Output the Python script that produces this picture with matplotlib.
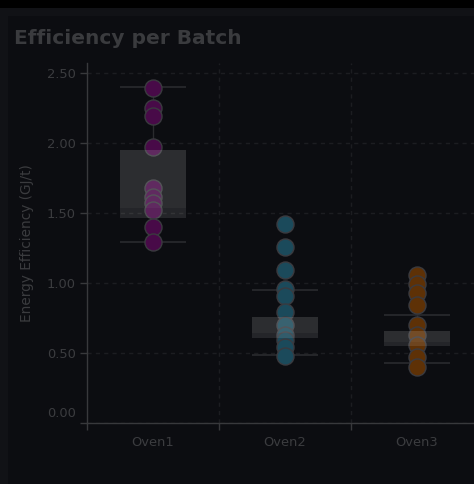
import matplotlib
matplotlib.use("Agg")
import matplotlib.pyplot as plt
import matplotlib.transforms as mtransforms
from matplotlib.patches import Rectangle
import numpy as np

# ---- data ----
categories = ["Oven1", "Oven2", "Oven3"]
oven1 = [2.395, 2.25, 2.19, 1.97, 1.68, 1.61, 1.57, 1.52, 1.40, 1.29]
oven2 = [1.42, 1.26, 1.09, 0.96, 0.91, 0.79, 0.70, 0.63, 0.59, 0.54, 0.48]
oven3 = [1.06, 0.99, 0.93, 0.84, 0.70, 0.63, 0.56, 0.47, 0.40]
series = [oven1, oven2, oven3]
# box statistics
whisker_low = [1.29, 0.486, 0.43]
q1 = [1.46, 0.607, 0.55]
median = [1.536, 0.643, 0.58]
q3 = [1.95, 0.757, 0.66]
whisker_high = [2.40, 0.95, 0.77]
yticks = [0.0, 0.5, 1.0, 1.5, 2.0, 2.5]
ytick_labels = ["0.00", "0.50", "1.00", "1.50", "2.00", "2.50"]
point_colors = ["#480a48", "#1b4a5b", "#5e3106"]

W, H = 474, 484
fig = plt.figure(figsize=(W / 100, H / 100), dpi=100, facecolor="#111216")
# black top strip and inner panel
fig.patches.append(Rectangle((0, 1 - 8 / H), 1, 8 / H, transform=fig.transFigure,
                             facecolor="#000000", edgecolor="none", zorder=-10))
fig.patches.append(Rectangle((8 / W, 0), 1, 1 - 16 / H, transform=fig.transFigure,
                             facecolor="#0c0d11", edgecolor="none", zorder=-10))

left, right, top, bottom = 87, 483, 63, 423
ax = fig.add_axes([left / W, 1 - bottom / H, (right - left) / W, (bottom - top) / H])
ax.set_zorder(5)
ax.set_facecolor("none")
ax.set_xlim(-0.5, 2.5)
ax.set_ylim(0, 2.57)

grid_c = "#1c1d21"
axis_c = "#38393c"
text_c = "#3b3c3f"

for yv in yticks:
    ax.axhline(yv, color=grid_c, lw=1, ls=(0, (3, 3)), zorder=0.5)
for xv in [0.5, 1.5]:
    ax.axvline(xv, color=grid_c, lw=1, ls=(0, (3, 3)), zorder=0.5)

x = np.arange(len(categories))
# whiskers
for i in range(len(categories)):
    ax.plot([x[i], x[i]], [whisker_low[i], q1[i]], color="#2a2b2e", lw=1, zorder=1)
    ax.plot([x[i], x[i]], [q3[i], whisker_high[i]], color="#2a2b2e", lw=1, zorder=1)
ax.hlines(whisker_low, x - 0.25, x + 0.25, color="#2a2b2e", lw=1.2, zorder=1)
ax.hlines(whisker_high, x - 0.25, x + 0.25, color="#2a2b2e", lw=1.2, zorder=1)

# points
for i, vals in enumerate(series):
    ax.scatter(np.full(len(vals), x[i]), vals, s=150, facecolor=point_colors[i],
               edgecolor="#3a3a3f", linewidth=1.0, zorder=2)

# boxes (drawn over points, translucent)
ax.bar(x, np.array(median) - np.array(q1), bottom=q1, width=0.5,
       color=(1, 1, 1, 0.10), edgecolor="none", zorder=3)
ax.bar(x, np.array(q3) - np.array(median), bottom=median, width=0.5,
       color=(1, 1, 1, 0.135), edgecolor="none", zorder=3)

# axes styling
for s in ["top", "right"]:
    ax.spines[s].set_visible(False)
for s in ["left", "bottom"]:
    ax.spines[s].set_color(axis_c)
    ax.spines[s].set_linewidth(1)

ax.set_yticks(yticks)
ax.set_yticklabels(ytick_labels)
ax.set_xticks([-0.5, 0.5, 1.5])
ax.set_xticklabels(["", "", ""])
ax.set_xticks(x, minor=True)
ax.set_xticklabels(categories, minor=True)
ax.tick_params(axis="x", which="major", length=5, color=axis_c, width=1)
ax.tick_params(axis="x", which="minor", length=0, pad=9, labelsize=9.4, labelcolor=text_c)
ax.tick_params(axis="y", length=5, color=axis_c, width=1, labelsize=9.4,
               labelcolor=text_c, pad=3)

# flush the bottom label upward
fig.canvas.draw()
lab0 = ax.get_yticklabels()[0]
lab0.set_transform(lab0.get_transform() + mtransforms.ScaledTranslation(0, 11 / 100, fig.dpi_scale_trans))

ax.set_ylabel("Energy Efficiency (GJ/t)", fontsize=9.8, color=text_c, labelpad=9)

fig.text(14 / W, 1 - 38 / H, "Efficiency per Batch", fontsize=14.5, fontweight="bold",
         color="#3a3b3e", ha="left", va="center")

fig.savefig("out.png", dpi=100, facecolor=fig.get_facecolor())
